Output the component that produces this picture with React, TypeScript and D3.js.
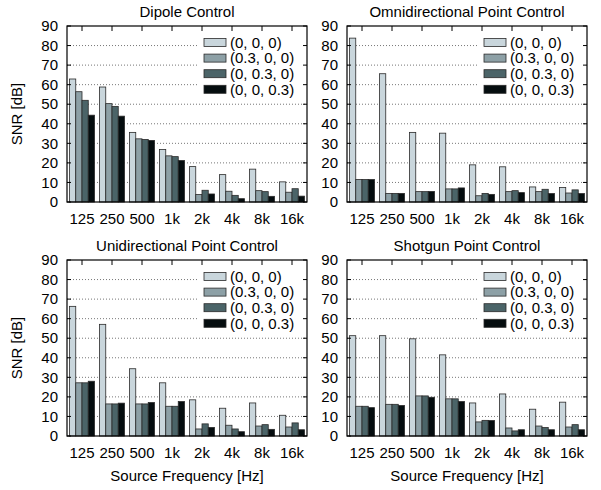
import React, { useEffect, useRef } from 'react';
import * as d3 from 'd3';

const freqs = ['125', '250', '500', '1k', '2k', '4k', '8k', '16k'];
const seriesNames = ['(0, 0, 0)', '(0.3, 0, 0)', '(0, 0.3, 0)', '(0, 0, 0.3)'];
const colors = ['#c9d6dc', '#8da0a6', '#4b6468', '#050d0f'];
const yTicks = [0, 10, 20, 30, 40, 50, 60, 70, 80, 90];

// one row per series, one value per frequency
const dipole = [
  [62.9, 58.8, 35.6, 26.8, 18.1, 14.0, 16.8, 10.3],
  [56.4, 50.3, 32.3, 23.6, 3.8, 5.5, 5.8, 5.0],
  [52.0, 48.9, 32.0, 23.2, 6.0, 3.4, 5.3, 6.8],
  [44.4, 43.9, 31.5, 21.2, 4.1, 1.7, 2.9, 3.0],
];
const omni = [
  [83.8, 65.6, 35.6, 35.2, 19.0, 18.0, 7.7, 7.4],
  [11.5, 4.4, 5.3, 6.7, 3.2, 5.3, 5.3, 4.6],
  [11.5, 4.4, 5.3, 6.7, 4.4, 5.8, 6.5, 6.2],
  [11.5, 4.4, 5.4, 7.2, 3.9, 4.8, 4.3, 4.3],
];
const uni = [
  [66.3, 57.1, 34.4, 27.2, 18.5, 14.2, 16.9, 10.6],
  [27.2, 16.4, 16.4, 15.2, 3.6, 5.5, 5.1, 4.6],
  [27.2, 16.4, 16.4, 15.2, 6.2, 3.6, 5.8, 6.7],
  [28.0, 16.8, 17.1, 17.6, 4.4, 2.2, 3.4, 3.2],
];
const shotgun = [
  [51.3, 51.3, 49.7, 41.5, 16.9, 21.5, 13.7, 17.3],
  [15.2, 16.2, 20.5, 19.0, 7.2, 4.1, 5.1, 4.6],
  [15.2, 16.2, 20.5, 19.0, 8.0, 2.6, 4.3, 5.8],
  [14.5, 15.6, 19.8, 17.6, 7.9, 3.2, 3.2, 3.2],
];

const panels = [
  { title: 'Dipole Control', data: dipole, x: 67, y: 26, ylab: true, xlab: false },
  { title: 'Omnidirectional Point Control', data: omni, x: 347, y: 26, ylab: false, xlab: false },
  { title: 'Unidirectional Point Control', data: uni, x: 67, y: 260, ylab: true, xlab: true },
  { title: 'Shotgun Point Control', data: shotgun, x: 347, y: 260, ylab: false, xlab: true },
];

const App = () => {
  const ref = useRef<SVGSVGElement>(null);

  useEffect(() => {
    const width = 240;
    const height = 176;
    const font = '"Liberation Sans", Arial, sans-serif';

    const svg = d3.select(ref.current);
    svg.selectAll('*').remove();

    const x = d3.scaleBand().domain(freqs).range([0, width]).paddingInner(1 / 6).paddingOuter(1 / 12);
    const xs = d3.scaleBand().domain(d3.range(seriesNames.length).map(String)).range([0, x.bandwidth()]);
    const y = d3.scaleLinear().domain([0, 90]).range([height, 0]);

    panels.forEach(p => {
      const g = svg.append('g').attr('transform', `translate(${p.x}, ${p.y})`);

      // grid
      g.append('g')
        .selectAll('line')
        .data(yTicks.filter(t => t > 0 && t < 90))
        .join('line')
        .attr('x1', 0)
        .attr('x2', width)
        .attr('y1', d => y(d))
        .attr('y2', d => y(d))
        .attr('stroke', '#777')
        .attr('stroke-width', 1)
        .attr('stroke-dasharray', '1,2');

      // legend background hides the grid
      g.append('rect')
        .attr('x', 132)
        .attr('y', 8)
        .attr('width', width - 133)
        .attr('height', 64)
        .attr('fill', '#fff');

      // bars
      p.data.forEach((vals, si) => {
        g.append('g')
          .selectAll('rect')
          .data(vals)
          .join('rect')
          .attr('x', (d, i) => (x(freqs[i]) ?? 0) + (xs(String(si)) ?? 0))
          .attr('y', d => y(d))
          .attr('width', xs.bandwidth())
          .attr('height', d => y(0) - y(d))
          .attr('fill', colors[si])
          .attr('stroke', '#2a2a2a')
          .attr('stroke-width', 0.8);
      });

      // ticks (mirrored, inward)
      const ticks = g.append('g').attr('stroke', '#000').attr('stroke-width', 1);
      yTicks.forEach(t => {
        ticks.append('line').attr('x1', 0).attr('x2', 4).attr('y1', y(t)).attr('y2', y(t));
        ticks.append('line').attr('x1', width).attr('x2', width - 4).attr('y1', y(t)).attr('y2', y(t));
      });
      freqs.forEach(f => {
        const cx = (x(f) ?? 0) + x.bandwidth() / 2;
        ticks.append('line').attr('x1', cx).attr('x2', cx).attr('y1', 0).attr('y2', 5);
      });

      // frame
      g.append('rect')
        .attr('width', width)
        .attr('height', height)
        .attr('fill', 'none')
        .attr('stroke', '#000')
        .attr('stroke-width', 1.2);

      // tick labels
      g.append('g')
        .selectAll('text')
        .data(yTicks)
        .join('text')
        .attr('x', -9)
        .attr('y', d => y(d))
        .attr('dy', '0.35em')
        .attr('text-anchor', 'end')
        .attr('font-family', font)
        .attr('font-size', 15)
        .text(d => d);

      g.append('g')
        .selectAll('text')
        .data(freqs)
        .join('text')
        .attr('x', d => (x(d) ?? 0) + x.bandwidth() / 2)
        .attr('y', height + 22)
        .attr('text-anchor', 'middle')
        .attr('font-family', font)
        .attr('font-size', 15)
        .text(d => d);

      // title
      g.append('text')
        .attr('x', width / 2)
        .attr('y', -9)
        .attr('text-anchor', 'middle')
        .attr('font-family', font)
        .attr('font-size', 15)
        .text(p.title);

      if (p.ylab) {
        g.append('text')
          .attr('transform', `translate(${-45}, ${height / 2}) rotate(-90)`)
          .attr('text-anchor', 'middle')
          .attr('font-family', font)
          .attr('font-size', 15)
          .text('SNR [dB]');
      }
      if (p.xlab) {
        g.append('text')
          .attr('x', width / 2)
          .attr('y', height + 45)
          .attr('text-anchor', 'middle')
          .attr('font-family', font)
          .attr('font-size', 15)
          .text('Source Frequency [Hz]');
      }

      // legend
      const leg = g.append('g');
      seriesNames.forEach((name, i) => {
        const ly = 16.5 + i * 15.6;
        leg.append('rect')
          .attr('x', 137)
          .attr('y', ly - 4)
          .attr('width', 22)
          .attr('height', 8)
          .attr('fill', colors[i])
          .attr('stroke', '#2a2a2a')
          .attr('stroke-width', 0.8);
        leg.append('text')
          .attr('x', 163)
          .attr('y', ly)
          .attr('dy', '0.35em')
          .attr('font-family', font)
          .attr('font-size', 15)
          .text(name);
      });
    });
  }, []);

  return (
    <svg
      ref={ref}
      width={601}
      height={490}
      style={{ position: 'absolute', left: 0, top: 0, background: '#fff' }}
    />
  );
};

export default App;
